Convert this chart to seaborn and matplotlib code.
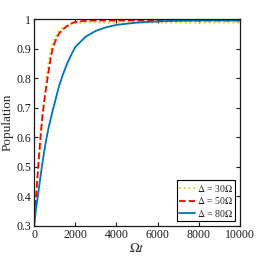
import numpy as np
import pandas as pd
import matplotlib
matplotlib.use("Agg")
import matplotlib.pyplot as plt
import seaborn as sns

# values
t = [0, 100, 200, 300, 400, 500, 600, 700, 800, 900, 1000, 1200, 1400, 1600,
     1800, 2000, 2500, 3000, 3500, 4000, 5000, 6000, 7000, 8000, 9000, 10000]
pop_30 = [0.30, 0.40, 0.49, 0.57, 0.65, 0.73, 0.80, 0.85, 0.89, 0.915, 0.935, 0.958,
          0.971, 0.978, 0.983, 0.986, 0.988, 0.988, 0.988, 0.988, 0.988, 0.988,
          0.988, 0.988, 0.988, 0.988]
pop_50 = [0.30, 0.40, 0.50, 0.59, 0.67, 0.725, 0.775, 0.82, 0.865, 0.90, 0.92, 0.95,
          0.965, 0.976, 0.985, 0.99, 0.994, 0.995, 0.995, 0.995, 0.995, 0.995,
          0.995, 0.995, 0.995, 0.995]
pop_80 = [0.30, 0.36, 0.41, 0.46, 0.51, 0.555, 0.595, 0.63, 0.66, 0.69, 0.715, 0.77,
          0.812, 0.848, 0.878, 0.905, 0.94, 0.96, 0.972, 0.98, 0.988, 0.992,
          0.994, 0.995, 0.995, 0.995]
labels = [r"$\Delta$ = 30$\Omega$", r"$\Delta$ = 50$\Omega$", r"$\Delta$ = 80$\Omega$"]
colors = ["#D4D400", "#FF0000", "#0072BD"]
styles = [":", "--", "-"]

sns.set_style("ticks")
plt.rcParams["font.family"] = ["Liberation Serif", "DejaVu Serif"]
plt.rcParams["mathtext.fontset"] = "stix"
plt.rcParams["xtick.direction"] = "in"
plt.rcParams["ytick.direction"] = "in"

fig = plt.figure(figsize=(2.66, 2.57), dpi=100)
ax = fig.add_axes([0.128, 0.121, 0.774, 0.805])

for y, lab, c, ls in zip([pop_30, pop_50, pop_80], labels, colors, styles):
    df = pd.DataFrame({"t": t, "p": y})
    sns.lineplot(data=df, x="t", y="p", ax=ax, color=c, linestyle=ls,
                 linewidth=1.3, label=lab)

ax.set_xlim(0, 10000)
ax.set_ylim(0.3, 1)
ax.set_xticks([0, 2000, 4000, 6000, 8000, 10000])
ax.set_yticks([0.3, 0.4, 0.5, 0.6, 0.7, 0.8, 0.9, 1.0])
ax.yaxis.set_major_formatter(matplotlib.ticker.FormatStrFormatter("%g"))
ax.tick_params(top=True, right=True, labelsize=8.5, length=3, width=0.8,
               colors="#1a1a1a", pad=2)
for s in ax.spines.values():
    s.set_linewidth(0.9)
    s.set_color("#1a1a1a")
ax.set_xlabel(r"$\Omega t$", fontsize=9.5, labelpad=1)
ax.set_ylabel("Population", fontsize=9.5, labelpad=2)

leg = ax.legend(loc="lower right", fontsize=7, frameon=True, fancybox=False,
                edgecolor="black", framealpha=1, handlelength=1.6,
                handletextpad=0.2, borderpad=0.25, labelspacing=0.15,
                borderaxespad=0.5)
leg.get_frame().set_linewidth(0.8)

fig.savefig("out.png", dpi=100)
